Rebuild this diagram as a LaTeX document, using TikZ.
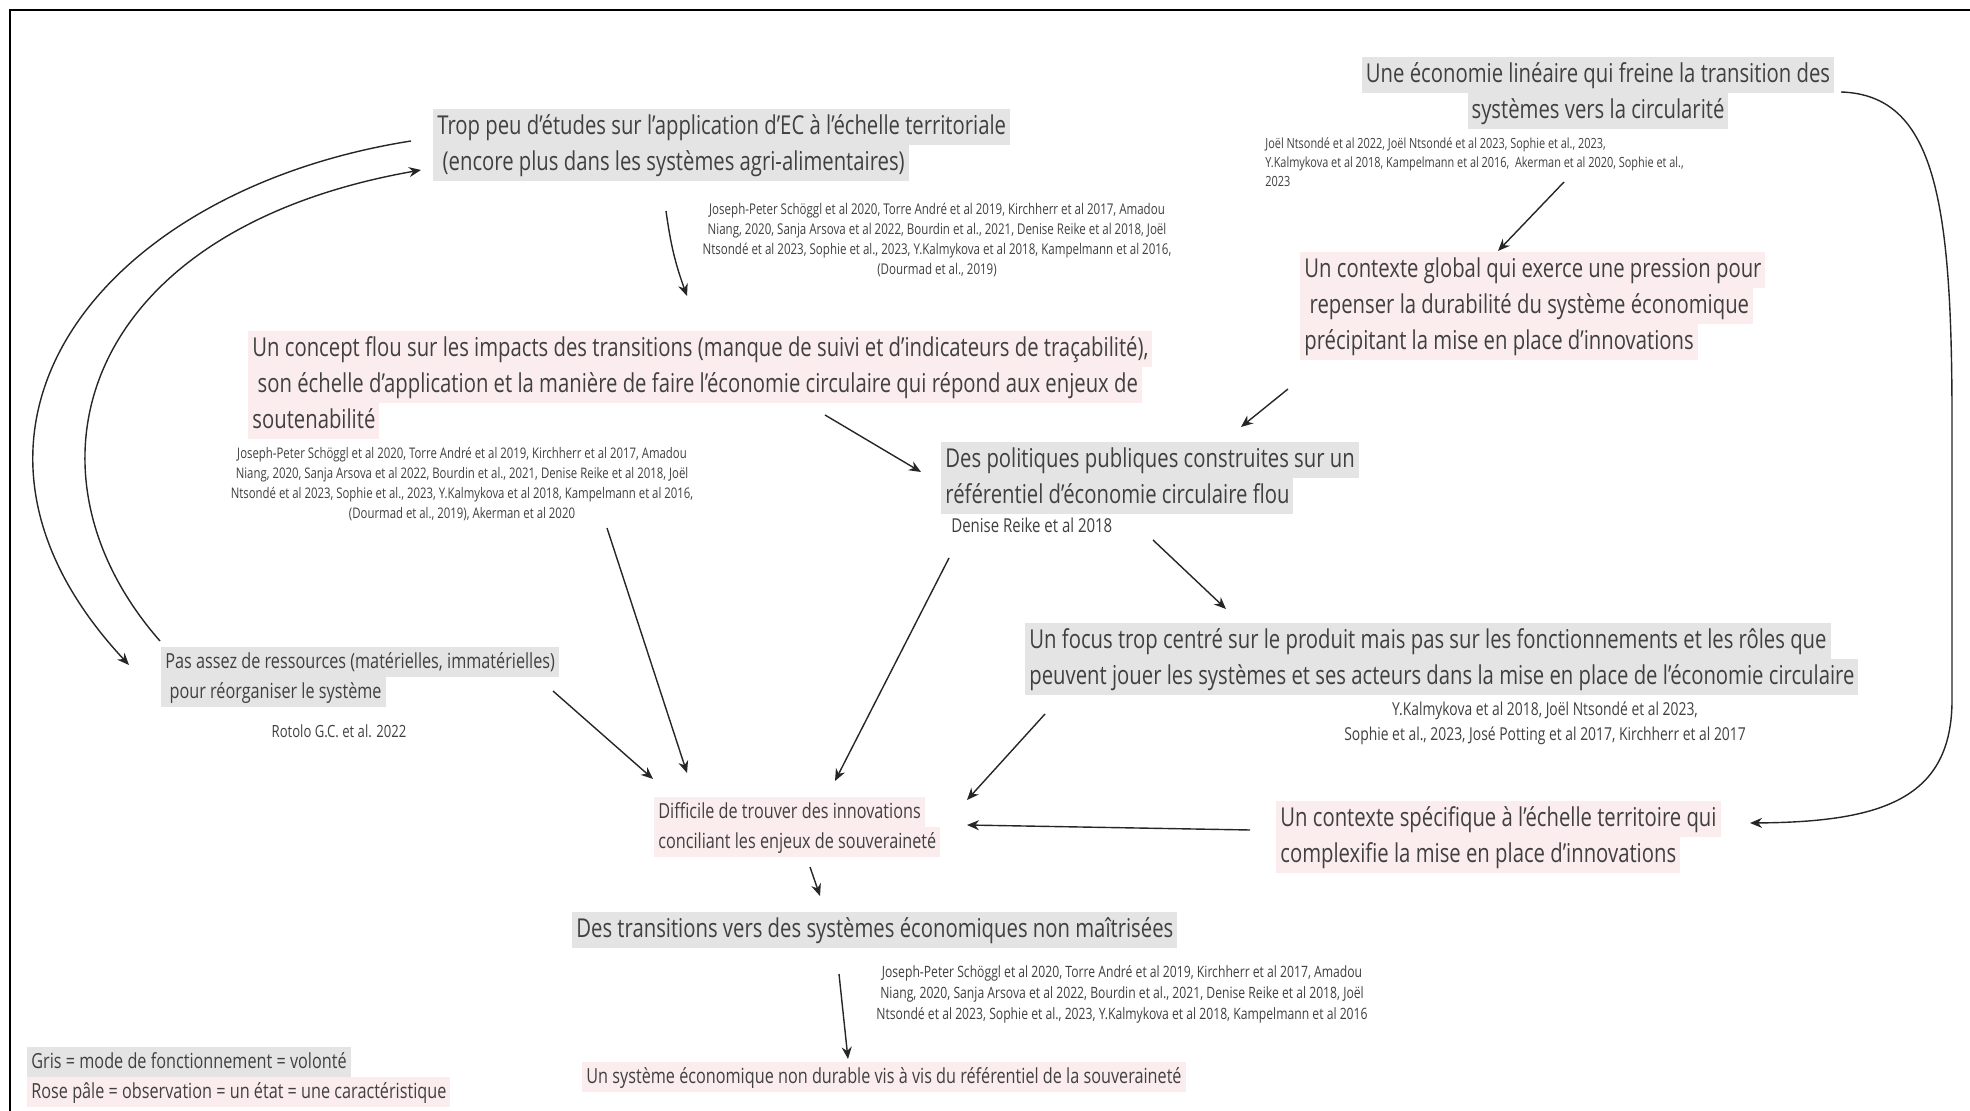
\documentclass[tikz,border=0pt]{standalone}
\usepackage{fontspec}
\setmainfont{Open Sans}[FakeStretch=0.78]
\usetikzlibrary{arrows.meta,calc}
\definecolor{hlgray}{HTML}{E4E4E4}
\definecolor{hlpink}{HTML}{FBEDED}
\definecolor{txt}{HTML}{404040}
\newcommand\hg[1]{{\setlength{\fboxsep}{0pt}\colorbox{hlgray}{\strut\kern2pt #1\kern2pt}}}
\newcommand\hp[1]{{\setlength{\fboxsep}{0pt}\colorbox{hlpink}{\strut\kern2pt #1\kern2pt}}}
\tikzset{
  mainbox/.style={inner sep=0pt, align=left, font=\fontsize{13}{18}\selectfont, text=txt},
  mainc/.style={inner sep=0pt, align=center, font=\fontsize{13}{18}\selectfont, text=txt},
  smallbox/.style={inner sep=0pt, align=left, font=\fontsize{10.4}{15}\selectfont, text=txt},
  citebox/.style={inner sep=0pt, align=center, text=txt},
  arr/.style={-{Stealth[length=6pt,width=5pt]}, line width=0.7pt, draw=black!85},
}
\begin{document}
\begin{tikzpicture}[x=0.5pt,y=-0.5pt]
\useasboundingbox (0,0) rectangle (1970,1111);
\fill[white] (0,0) rectangle (1970,1111);
\draw[line width=1pt] (10,1115) -- (10,10) -- (1975,10);

% nodes
\node[mainbox, anchor=north west] (A) at (433,109)
  {\hg{Trop peu d'études sur l'application d'EC à l'échelle territoriale}\\
   \hg{\ (encore plus dans les systèmes agri-alimentaires)}};
\node[citebox, font=\fontsize{7.4}{10}\selectfont] (citeA) at (937,240)
  {Joseph-Peter Schöggl et al 2020, Torre André et al 2019, Kirchherr et al 2017, Amadou\\
   Niang, 2020, Sanja Arsova et al 2022, Bourdin et al., 2021, Denise Reike et al 2018, Joël\\
   Ntsondé et al 2023, Sophie et al., 2023, Y.Kalmykova et al 2018, Kampelmann et al 2016,\\
   (Dourmad et al., 2019)};

\node[mainc, anchor=north] (C) at (1598,57)
  {\hg{Une économie linéaire qui freine la transition des}\\
   \hg{systèmes vers la circularité}};
\node[citebox, align=left, anchor=north west, font=\fontsize{7}{9.5}\selectfont] (citeC) at (1265,137)
  {Joël Ntsondé et al 2022, Joël Ntsondé et al 2023, Sophie et al., 2023,\\
   Y.Kalmykova et al 2018, Kampelmann et al 2016,\ \ Akerman et al 2020, Sophie et al.,\\
   2023};

\node[mainbox, anchor=north west] (D) at (1300,252)
  {\hp{Un contexte global qui exerce une pression pour}\\
   \hp{\ repenser la durabilité du système économique}\\
   \hp{précipitant la mise en place d'innovations}};

\node[mainbox, anchor=north west] (B) at (248,331)
  {\hp{Un concept flou sur les impacts des transitions (manque de suivi et d'indicateurs de traçabilité),}\\
   \hp{\ son échelle d'application et la manière de faire l'économie circulaire qui répond aux enjeux de}\\
   \hp{soutenabilité}};
\node[citebox, font=\fontsize{7.3}{10}\selectfont] (citeB) at (462,484)
  {Joseph-Peter Schöggl et al 2020, Torre André et al 2019, Kirchherr et al 2017, Amadou\\
   Niang, 2020, Sanja Arsova et al 2022, Bourdin et al., 2021, Denise Reike et al 2018, Joël\\
   Ntsondé et al 2023, Sophie et al., 2023, Y.Kalmykova et al 2018, Kampelmann et al 2016,\\
   (Dourmad et al., 2019), Akerman et al 2020};

\node[mainbox, anchor=north west] (E) at (941,442)
  {\hg{Des politiques publiques construites sur un}\\
   \hg{référentiel d'économie circulaire flou}};
\node[citebox, anchor=west, font=\fontsize{9.6}{12}\selectfont] (citeE) at (951,525)
  {Denise Reike et al 2018};

\node[mainbox, anchor=north west] (F) at (1025,623)
  {\hg{Un focus trop centré sur le produit mais pas sur les fonctionnements et les rôles que}\\
   \hg{peuvent jouer les systèmes et ses acteurs dans la mise en place de l'économie circulaire}};
\node[citebox, font=\fontsize{8.9}{12.5}\selectfont] (citeF) at (1545,723)
  {Y.Kalmykova et al 2018, Joël Ntsondé et al 2023,\\
   Sophie et al., 2023, José Potting et al 2017, Kirchherr et al 2017};

\node[smallbox, anchor=north west] (H) at (161,647)
  {\hg{Pas assez de ressources (matérielles, immatérielles)}\\
   \hg{\ pour réorganiser le système}};
\node[citebox, font=\fontsize{8.4}{10}\selectfont] (citeH) at (339,731)
  {Rotolo G.C. et al. 2022};

\node[smallbox, anchor=north west] (G) at (654,797)
  {\hp{Difficile de trouver des innovations}\\
   \hp{conciliant les enjeux de souveraineté}};

\node[mainbox, anchor=north west] (K) at (1276,801)
  {\hp{Un contexte spécifique à l'échelle territoire qui}\\
   \hp{complexifie la mise en place d'innovations}};

\node[mainbox, anchor=north west] (I) at (572,912)
  {\hg{Des transitions vers des systèmes économiques non maîtrisées}};
\node[citebox, font=\fontsize{7.8}{10.5}\selectfont] (citeI) at (1122,994)
  {Joseph-Peter Schöggl et al 2020, Torre André et al 2019, Kirchherr et al 2017, Amadou\\
   Niang, 2020, Sanja Arsova et al 2022, Bourdin et al., 2021, Denise Reike et al 2018, Joël\\
   Ntsondé et al 2023, Sophie et al., 2023, Y.Kalmykova et al 2018, Kampelmann et al 2016};

\node[smallbox, anchor=west] (J) at (582,1077)
  {\hp{Un système économique non durable vis à vis du référentiel de la souveraineté}};

\node[smallbox, anchor=north west] (L) at (27,1047)
  {\hg{Gris = mode de fonctionnement = volonté}\\
   \hp{Rose pâle = observation = un état = une caractéristique}};

% connectors
\draw[arr] ($(A.north west)+(233,102)$) to[bend right=6] ($(B.north west)+(439,-35)$);
\draw[arr] ($(C.north)+(-34,125)$) -- ($(D.north west)+(198,-1)$);
\draw[arr] ($(C.north)+(243,35)$) .. controls (1935,95) and (1952,200) .. (1952,420)
   -- (1952,700) .. controls (1952,800) and (1880,822) .. ($(K.north west)+(474,22)$);
\draw[arr] ($(D.north west)+(-12,137)$) -- ($(E.north west)+(300,-15)$);
\draw[arr] ($(B.north west)+(577,84)$) -- ($(E.north west)+(-20,30)$);
\draw[arr] ($(citeB.center)+(145,44)$) -- ($(G.north west)+(33,-24)$);
\draw[arr] ($(E.north west)+(212,98)$) -- ($(F.north west)+(201,-14)$);
\draw[arr] ($(E.north west)+(8,116)$) -- ($(G.north west)+(181,-16)$);
\draw[arr] ($(F.north west)+(20,91)$) -- ($(G.north west)+(313,3)$);
\draw[arr] ($(H.north west)+(392,44)$) -- ($(G.north west)+(-1,-18)$);
\draw[arr] ($(A.north west)+(-22,32)$) .. controls (100,190) and (-90,430) .. ($(H.north west)+(-32,18)$);
\draw[arr] ($(H.north west)+(-1,-6)$) .. controls (10,470) and (80,230) .. ($(A.north west)+(-12,61)$);
\draw[arr] ($(K.north west)+(-26,29)$) -- ($(G.north west)+(313,28)$);
\draw[arr] ($(G.north west)+(156,70)$) -- ($(I.north west)+(248,-16)$);
\draw[arr] ($(I.north west)+(267,62)$) -- ($(J.west)+(266,-18)$);
\end{tikzpicture}
\end{document}
